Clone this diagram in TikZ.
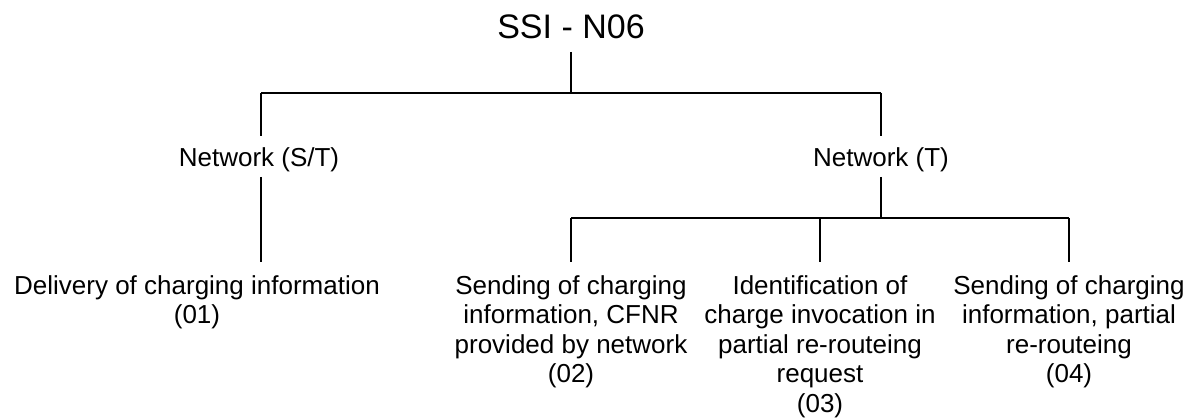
\documentclass[tikz,border=0pt]{standalone}
\usepackage{fontspec}
\setmainfont{Liberation Sans}
\begin{document}
\begin{tikzpicture}[x=1pt,y=-1pt,
  conn/.style={line width=1.6pt},
  lbl/.style={inner sep=0pt,font=\fontsize{26}{29.5}\selectfont,align=center},
  ttl/.style={inner sep=0pt,font=\fontsize{34}{40}\selectfont}]
\useasboundingbox (0,0) rectangle (1194,419);
\node[ttl,anchor=base] (title) at (571,39) {SSI - N06};
\node[lbl,anchor=base] (st) at (259,167) {Network (S/T)};
\node[lbl,anchor=base] (t) at (881,167) {Network (T)};
\node[lbl,anchor=north] (n01) at (197,275) {Delivery of charging information\\(01)};
\node[lbl,anchor=north] (n02) at (571,275) {Sending of charging\\information, CFNR\\provided by network\\(02)};
\node[lbl,anchor=north] (n03) at (820,275) {Identification of\\charge invocation in\\partial re-routeing\\request\\(03)};
\node[lbl,anchor=north] (n04) at (1069,275) {Sending of charging\\information, partial\\re-routeing\\(04)};
\coordinate (j0) at (571,93);
\coordinate (jL) at (261,93);
\coordinate (jR) at (881,93);
\coordinate (j1) at (881,218);
\coordinate (j2) at (571,218);
\coordinate (j4) at (1069,218);
\coordinate (j3) at (820,218);
\draw[conn] (571,52) -- (j0);
\draw[conn] (jL) -- (jR);
\draw[conn] (jL) -- (261,136);
\draw[conn] (jR) -- (881,136);
\draw[conn] (261,177) -- (261,262);
\draw[conn] (881,177) -- (j1);
\draw[conn] (j2) -- (j4);
\draw[conn] (j2) -- (571,262);
\draw[conn] (j3) -- (820,262);
\draw[conn] (j4) -- (1069,262);
\end{tikzpicture}
\end{document}
